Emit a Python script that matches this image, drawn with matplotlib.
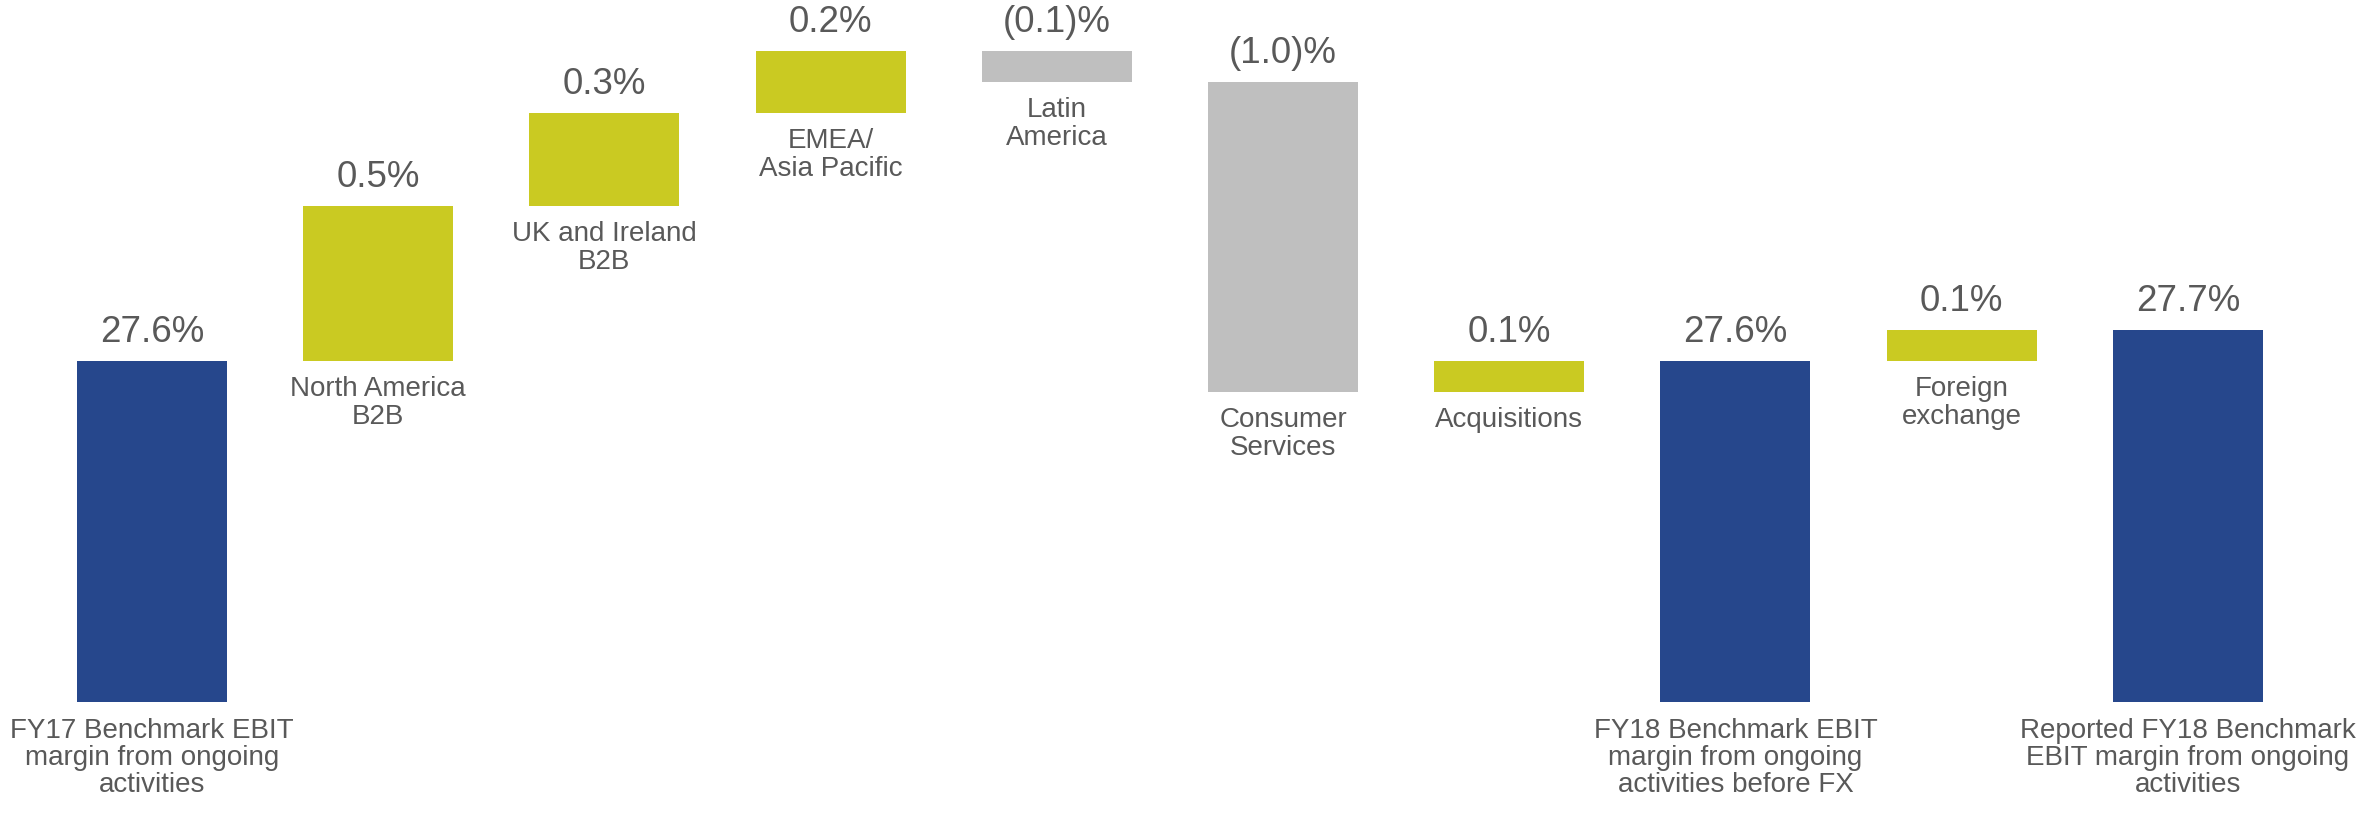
import matplotlib.pyplot as plt

plt.rcParams['font.family'] = ['Liberation Sans', 'DejaVu Sans']

# EBIT margin bridge FY17 -> FY18
categories = [
    'FY17 Benchmark EBIT\nmargin from ongoing\nactivities',
    'North America\nB2B',
    'UK and Ireland\nB2B',
    'EMEA/\nAsia Pacific',
    'Latin\nAmerica',
    'Consumer\nServices',
    'Acquisitions',
    'FY18 Benchmark EBIT\nmargin from ongoing\nactivities before FX',
    'Foreign\nexchange',
    'Reported FY18 Benchmark\nEBIT margin from ongoing\nactivities',
]
values = [27.6, 0.5, 0.3, 0.2, -0.1, -1.0, 0.1, 27.6, 0.1, 27.7]
is_total = [True, False, False, False, False, False, False, True, False, True]
value_labels = ['27.6%', '0.5%', '0.3%', '0.2%', '(0.1)%', '(1.0)%',
                '0.1%', '27.6%', '0.1%', '27.7%']

NAVY = '#26478C'
GREEN = '#CACA22'
GREY = '#BFBFBF'
TEXT = '#595959'
base = 26.5

fig = plt.figure(figsize=(23.62, 8.17), dpi=100)
ax = fig.add_axes([0, 0, 1, 1])

level = base
for i, (v, tot) in enumerate(zip(values, is_total)):
    if tot:
        bottom, top, col = base, v, NAVY
        level = v
    elif v >= 0:
        bottom, top, col = level, level + v, GREEN
        level = top
    else:
        bottom, top, col = level + v, level, GREY
        level = bottom
    ax.bar(i, top - bottom, bottom=bottom, width=0.663, color=col)
    ax.annotate(value_labels[i], (i, top), xytext=(0, 13.5), textcoords='offset points',
                ha='center', va='baseline', fontsize=26.5, color=TEXT)
    ax.annotate(categories[i], (i, bottom), xytext=(0, -11), textcoords='offset points',
                ha='center', va='top', fontsize=20, color=TEXT, linespacing=1.07)

ax.set_xlim(-0.672, 9.77)
ax.set_ylim(26.13, 28.765)
ax.axis('off')

fig.savefig('out.png', dpi=100)
